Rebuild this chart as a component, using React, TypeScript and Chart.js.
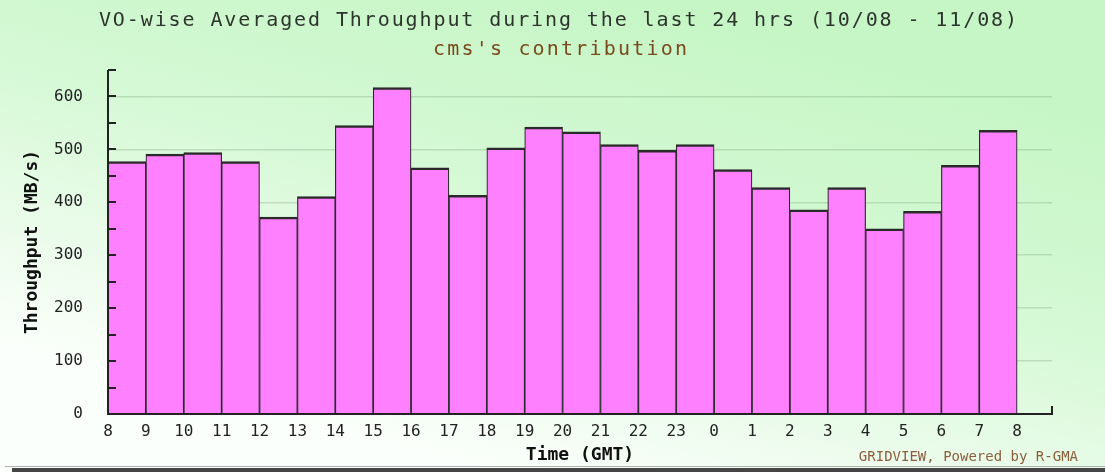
import React, { useEffect, useRef } from 'react';
import { Chart, registerables } from 'chart.js';

Chart.register(...registerables);

// ---- data ----
const hourLabels = ['8', '9', '10', '11', '12', '13', '14', '15', '16', '17', '18', '19', '20', '21', '22', '23', '0', '1', '2', '3', '4', '5', '6', '7', '8'];
const throughput = [477, 491, 494, 477, 372, 411, 545, 617, 465, 413, 503, 542, 533, 509, 498, 509, 462, 428, 386, 428, 350, 383, 470, 536];
const yLabelValues = [0, 100, 200, 300, 400, 500, 600];
const titleText = 'VO-wise Averaged Throughput during the last 24 hrs (10/08 - 11/08)';
const subtitleText = "cms's contribution";
const xTitle = 'Time (GMT)';
const yTitle = 'Throughput (MB/s)';
const creditText = 'GRIDVIEW, Powered by R-GMA';

const MONO = '"DejaVu Sans Mono", "Liberation Mono", monospace';

function spacedText(ctx: CanvasRenderingContext2D, text: string, cx: number, cy: number, spacing: number) {
  (ctx as any).letterSpacing = spacing + 'px';
  ctx.textAlign = 'left';
  ctx.textBaseline = 'middle';
  const w = ctx.measureText(text).width;
  ctx.fillText(text, cx - (w - spacing) / 2, cy);
  (ctx as any).letterSpacing = '0px';
}

const decor = {
  id: 'decor',
  beforeDraw(chart: any) {
    const { ctx, width, height } = chart;
    ctx.save();
    const g = ctx.createLinearGradient(620, 0, 500, height);
    g.addColorStop(0, '#c6f6c6');
    g.addColorStop(0.45, '#d6f9d6');
    g.addColorStop(0.8, '#eefcee');
    g.addColorStop(1, '#fbfffb');
    ctx.fillStyle = g;
    ctx.fillRect(0, 0, width, height);
    ctx.restore();
  },
  afterDraw(chart: any) {
    const { ctx, chartArea, scales } = chart;
    const { left, right, top, bottom } = chartArea;
    const y = scales.y;
    ctx.save();
    // axes
    ctx.strokeStyle = '#222';
    ctx.lineWidth = 2;
    ctx.beginPath();
    ctx.moveTo(left, top);
    ctx.lineTo(left, bottom);
    ctx.lineTo(right, bottom);
    ctx.lineTo(right, bottom - 8);
    ctx.stroke();
    // inward ticks on y axis every 50
    ctx.beginPath();
    for (const t of y.ticks) {
      const py = Math.round(y.getPixelForValue(t.value));
      ctx.moveTo(left, py);
      ctx.lineTo(left + 8, py);
    }
    ctx.stroke();

    // titles
    ctx.fillStyle = '#2c352c';
    ctx.font = `20px ${MONO}`;
    spacedText(ctx, titleText, 558, 21, 1.9);
    ctx.fillStyle = '#7a4a1c';
    spacedText(ctx, subtitleText, 560, 50, 2.2);

    // credit
    ctx.fillStyle = '#8b5e3c';
    ctx.font = `14px ${MONO}`;
    ctx.textAlign = 'right';
    ctx.textBaseline = 'middle';
    ctx.fillText(creditText, 1078, 457);

    // bottom frame bar
    ctx.fillStyle = '#b0b0b0';
    ctx.fillRect(5, 466, 1100, 1);
    ctx.fillStyle = '#454545';
    ctx.fillRect(12, 468, 1093, 4);
    ctx.restore();
  },
};

export default function App() {
  const ref = useRef<HTMLCanvasElement | null>(null);
  useEffect(() => {
    if (!ref.current) return;
    const chart = new Chart(ref.current, {
      type: 'bar',
      data: {
        datasets: [
          {
            data: throughput.map((v, i) => ({ x: i + 0.5, y: v })),
            backgroundColor: '#ff80ff',
            borderColor: '#2a2a2a',
            borderWidth: { top: 2.5, left: 1.2, right: 1.2, bottom: 0 },
            borderSkipped: false,
            barPercentage: 1,
            categoryPercentage: 1,
          },
        ],
      },
      options: {
        responsive: false,
        animation: false,
        devicePixelRatio: 1,
        layout: { padding: { top: 70, right: 53, left: 0, bottom: 0 } },
        plugins: { legend: { display: false }, tooltip: { enabled: false } },
        scales: {
          x: {
            type: 'linear',
            offset: false,
            min: 0,
            max: 24.92,
            afterFit: (s: any) => { s.height = 58; },
            afterBuildTicks: (s: any) => { s.ticks = hourLabels.map((_, i) => ({ value: i })); },
            grid: { display: false, drawTicks: false },
            border: { display: false },
            ticks: {
              autoSkip: false,
              maxRotation: 0,
              padding: 8,
              color: '#222',
              font: { family: MONO, size: 16 },
              callback: (v: any) => hourLabels[Math.round(Number(v))] ?? '',
            },
            title: {
              display: true,
              text: xTitle,
              color: '#111',
              font: { family: MONO, size: 18, weight: 'bold' },
              padding: { top: 0, bottom: 6 },
            },
          },
          y: {
            min: 0,
            max: 650,
            afterFit: (s: any) => { s.width = 108; },
            grid: {
              drawTicks: false,
              color: (c: any) => {
                const v = c.tick ? c.tick.value : 0;
                return yLabelValues.includes(v) && v > 0 ? 'rgba(110,150,110,0.28)' : 'rgba(0,0,0,0)';
              },
              lineWidth: 1.5,
            },
            border: { display: false },
            ticks: {
              stepSize: 50,
              autoSkip: false,
              padding: 25,
              color: '#222',
              font: { family: MONO, size: 16 },
              callback: (v: any) => (yLabelValues.includes(Number(v)) ? String(v) : ''),
            },
            title: {
              display: true,
              text: yTitle,
              color: '#111',
              font: { family: MONO, size: 18, weight: 'bold' },
              padding: { top: 22, bottom: 0 },
            },
          },
        },
      },
      plugins: [decor],
    } as any);
    return () => chart.destroy();
  }, []);
  return (
    <div style={{ position: 'absolute', left: 0, top: 0, width: 1105, height: 472 }}>
      <canvas ref={ref} width={1105} height={472} style={{ display: 'block' }} />
    </div>
  );
}
